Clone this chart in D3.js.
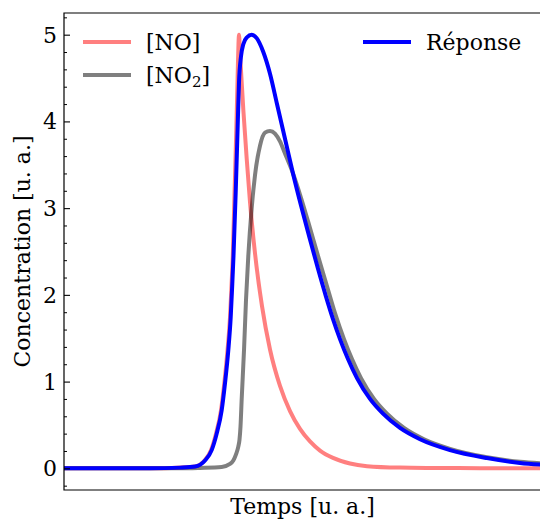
<!DOCTYPE html>
<html>
<head>
<meta charset="utf-8">
<script src="https://cdn.jsdelivr.net/npm/d3@7/dist/d3.min.js"></script>
<style>
  html, body { margin: 0; padding: 0; background: #fff; }
  svg { display: block; }
  text { font-family: "DejaVu Serif", serif; fill: #000; }
</style>
</head>
<body>
<svg id="chart" width="540" height="520"></svg>
<script>
// ---- Data (time in arbitrary units, values in u. a.) ----
const tNO = [0, 86, 116, 131, 140.5, 147, 152, 157, 160.3, 163.5, 166, 167.6, 168.8, 170.5, 172.3, 173.6, 174.5, 175,
             176, 179.3, 182.7, 186, 191, 198, 206, 216, 226, 236, 246, 256, 269, 286, 303, 336, 369, 416, 480];
const valNO = [0, 0, 0.01, 0.02, 0.09, 0.21, 0.40, 0.67, 0.98, 1.36, 1.74, 2.13, 2.45, 3.15, 3.9, 4.5, 4.9, 5.0,
               4.78, 4.14, 3.57, 3.07, 2.48, 1.87, 1.37, 0.95, 0.66, 0.455, 0.31, 0.205, 0.12, 0.055, 0.025, 0.008, 0.004, 0.002, 0];

const tNO2 = [0, 116, 136, 157.7, 166, 169.3, 172, 174.3, 175.5, 176.5, 177.7, 180, 182, 184.3, 187.7, 191, 196,
              201, 206, 211, 216, 221, 226, 229, 237, 246, 254, 262, 271, 280, 288, 297, 310, 323, 340, 360, 386, 423, 456, 480];
const valNO2 = [0, 0, 0.005, 0.015, 0.05, 0.09, 0.16, 0.25, 0.33, 0.48, 0.80, 1.36, 1.94, 2.45, 3.0, 3.38, 3.72,
                3.87, 3.89, 3.86, 3.77, 3.63, 3.49, 3.40, 3.12, 2.77, 2.45, 2.14, 1.79, 1.49, 1.26, 1.04, 0.80, 0.63,
                0.465, 0.335, 0.225, 0.128, 0.075, 0.055];

const tRep = [0, 86, 116, 131, 141, 147.7, 152.7, 157.7, 161, 164.3, 166.7, 168.3, 169.5, 171.7, 173.7, 175, 177,
              179.3, 183, 187.7, 192.7, 199.3, 206, 213, 221, 229, 237, 246, 254, 262, 269, 276, 284, 293, 306, 319,
              336, 356, 386, 423, 456, 480];
const valRep = [0, 0, 0.008, 0.02, 0.09, 0.21, 0.40, 0.67, 0.98, 1.36, 1.74, 2.13, 2.45, 3.18, 3.95, 4.45, 4.75,
                4.89, 4.97, 5.0, 4.96, 4.80, 4.55, 4.20, 3.80, 3.40, 3.03, 2.64, 2.30, 1.98, 1.72, 1.49, 1.26, 1.04,
                0.80, 0.63, 0.465, 0.335, 0.21, 0.118, 0.062, 0.04];

const yTicks = [0, 1, 2, 3, 4, 5];
const legendLabels = ["[NO]", "[NO2]", "Réponse"];

// ---- Layout ----
const svg = d3.select("#chart");
const pL = 64, pR = 541, pT = 13, pB = 490;

const x = d3.scaleLinear().domain([0, 477]).range([pL, pR]);
const y = d3.scaleLinear().domain([-0.25, 5.25]).range([pB, pT]);

svg.append("defs").append("clipPath").attr("id", "clip")
  .append("rect").attr("x", pL).attr("y", pT).attr("width", pR - pL).attr("height", pB - pT);

const line = d3.line().x(d => x(d[0])).y(d => y(d[1])).curve(d3.curveMonotoneX);
const plot = svg.append("g").attr("clip-path", "url(#clip)");

const series = [
  { t: tNO, v: valNO, color: "#ff0000", opacity: 0.5 },
  { t: tNO2, v: valNO2, color: "#000000", opacity: 0.5 },
  { t: tRep, v: valRep, color: "#0000ff", opacity: 1 }
];
series.forEach(s => {
  plot.append("path")
    .datum(s.t.map((t, i) => [t, s.v[i]]))
    .attr("d", line)
    .attr("fill", "none")
    .attr("stroke", s.color)
    .attr("stroke-opacity", s.opacity)
    .attr("stroke-width", 4)
    .attr("stroke-linejoin", "round")
    .attr("stroke-linecap", "butt");
});

// ---- Axes ----
const yAxis = d3.axisRight(y).tickValues(yTicks).tickSize(6).tickFormat("");
const gy = svg.append("g").attr("transform", `translate(${pL},0)`).call(yAxis);
gy.select(".domain").remove();
gy.selectAll("line").attr("stroke", "#000").attr("stroke-width", 1.1);

const minor = d3.range(-0.2, 5.21, 0.2).filter(v => Math.abs(v - Math.round(v)) > 1e-6);
const gm = svg.append("g").attr("transform", `translate(${pL},0)`)
  .call(d3.axisRight(y).tickValues(minor).tickSize(3).tickFormat(""));
gm.select(".domain").remove();
gm.selectAll("line").attr("stroke", "#000").attr("stroke-width", 1);

svg.append("g").selectAll("text").data(yTicks).join("text")
  .attr("x", 57).attr("y", d => y(d)).attr("dy", "0.36em")
  .attr("text-anchor", "end").attr("font-size", 22).text(d => d);

// spines
svg.append("path")
  .attr("d", `M${pR + 2},${pT}H${pL}V${pB}H${pR + 2}`)
  .attr("fill", "none").attr("stroke", "#000").attr("stroke-width", 1.2);

// axis labels
svg.append("text").attr("x", (pL + pR) / 2).attr("y", 514)
  .attr("text-anchor", "middle").attr("font-size", 22).text("Temps [u. a.]");
svg.append("text").attr("transform", `translate(30,${(pT + pB) / 2}) rotate(-90)`)
  .attr("text-anchor", "middle").attr("font-size", 22).text("Concentration [u. a.]");

// ---- Legend ----
const legendItems = [
  { label: legendLabels[0], color: "#ff0000", opacity: 0.5, lx: 83, ly: 42 },
  { label: legendLabels[1], color: "#000000", opacity: 0.5, lx: 83, ly: 75 },
  { label: legendLabels[2], color: "#0000ff", opacity: 1, lx: 363, ly: 42 }
];
const lg = svg.append("g");
legendItems.forEach(it => {
  lg.append("line").attr("x1", it.lx).attr("x2", it.lx + 48).attr("y1", it.ly).attr("y2", it.ly)
    .attr("stroke", it.color).attr("stroke-opacity", it.opacity).attr("stroke-width", 4);
  const t = lg.append("text").attr("x", it.lx + 63).attr("y", it.ly).attr("dy", "0.36em").attr("font-size", 22);
  if (it.label === "[NO2]") {
    t.append("tspan").text("[NO");
    t.append("tspan").attr("font-size", 15).attr("dy", "0.3em").text("2");
    t.append("tspan").attr("dy", "-0.2em").text("]");
  } else {
    t.text(it.label);
  }
});
</script>
</body>
</html>
